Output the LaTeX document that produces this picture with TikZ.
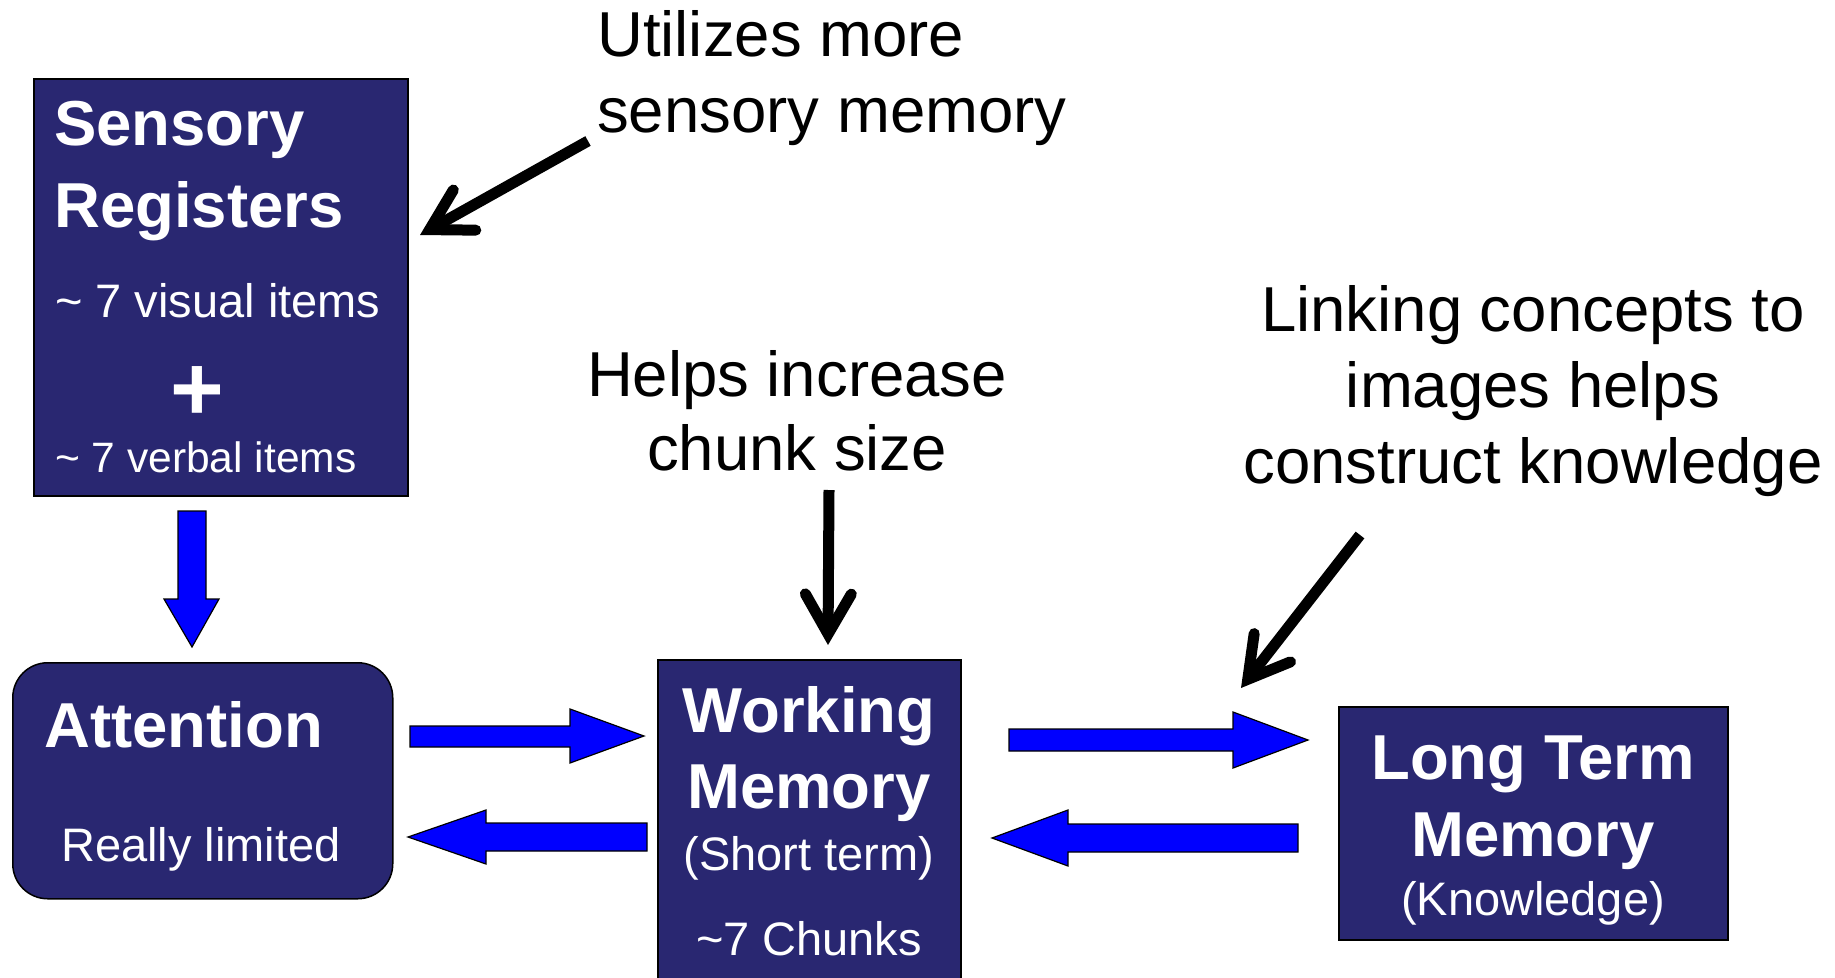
\documentclass[tikz,border=0pt]{standalone}
\usepackage{fontspec}
\setmainfont{Liberation Sans}
\usetikzlibrary{arrows.meta,calc}
\definecolor{navy}{RGB}{41,39,113}
\definecolor{flowblue}{RGB}{0,0,255}

\begin{document}
\begin{tikzpicture}[x=1pt,y=-1pt,
  box/.style={draw=black, line width=1.5pt, fill=navy, inner sep=0pt, anchor=north west},
  headtext/.style={text=white, font=\fontsize{63.5}{74}\selectfont\bfseries, inner sep=0pt},
  subtext/.style={text=white, font=\fontsize{47}{56}\selectfont, inner sep=0pt},
  smalltext/.style={text=white, font=\fontsize{42.5}{50}\selectfont, inner sep=0pt},
  note/.style={text=black, font=\fontsize{63.5}{76}\selectfont, inner sep=0pt},
  blockarrow/.style={draw=black, line width=1.2pt, fill=flowblue, line join=miter},
  pointer/.style={line width=11pt,
    -{Straight Barb[length=40pt,width=46pt,line cap=round,line join=miter]}}
]
\useasboundingbox (0,0) rectangle (1835,977);

% memory stores
\node[box, minimum width=374pt, minimum height=417pt] (sr) at (33,78) {};
\node[box, minimum width=380pt, minimum height=236pt, rounded corners=35pt] (att) at (12,662) {};
\node[box, minimum width=303pt, minimum height=340pt] (wm) at (657,659) {};
\node[box, minimum width=389pt, minimum height=233pt] (ltm) at (1338,706) {};

% sensory registers
\node[headtext, anchor=base west] (sr1) at (54,145) {Sensory};
\node[headtext, anchor=base west] (sr2) at (54,227) {Registers};
\node[subtext, anchor=base west] (sr3) at (55,317) {\textasciitilde{} 7 visual items};
\node[text=white, font=\fontsize{92}{92}\selectfont\bfseries, inner sep=0pt] (sr4) at (197,394) {+};
\node[smalltext, anchor=base west] (sr5) at (55,472) {\textasciitilde{} 7 verbal items};

% attention
\node[headtext, anchor=base west] (att1) at (44,747) {Attention};
\node[subtext, anchor=base west] (att2) at (61,861) {Really limited};

% working memory
\node[headtext, anchor=base] (wm1) at (809,732) {Working};
\node[headtext, anchor=base] (wm2) at (809,808) {Memory};
\node[subtext, anchor=base] (wm3) at (809,870) {(Short term)};
\node[subtext, anchor=base] (wm4) at (809,955) {\textasciitilde7 Chunks};

% long term memory
\node[headtext, anchor=base] (ltm1) at (1533,779) {Long Term};
\node[headtext, anchor=base] (ltm2) at (1533,856) {Memory};
\node[subtext, anchor=base] (ltm3) at (1533,915) {(Knowledge)};

% flow between the stores
\draw[blockarrow] (178,511) -- (206,511) -- (206,599) -- (219,599) -- (192,647)
  -- (164,599) -- (178,599) -- cycle;
\draw[blockarrow] (410,726) -- (570,726) -- (570,709) -- (644,736) -- (570,763)
  -- (570,747) -- (410,747) -- cycle;
\draw[blockarrow] (408,837) -- (486,810) -- (486,823) -- (647,823) -- (647,851)
  -- (486,851) -- (486,864) -- cycle;
\draw[blockarrow] (1009,729) -- (1233,729) -- (1233,712) -- (1308,740) -- (1233,768)
  -- (1233,751) -- (1009,751) -- cycle;
\draw[blockarrow] (992,838) -- (1068,810) -- (1068,824) -- (1298,824) -- (1298,852)
  -- (1068,852) -- (1068,866) -- cycle;

% annotations
\node[note, anchor=base west] (u1) at (597,56) {Utilizes more};
\node[note, anchor=base west] (u2) at (597,132) {sensory memory};
\node[note, anchor=base] (h1) at (797,396) {Helps increase};
\node[note, anchor=base] (h2) at (797,470) {chunk size};
\node[note, anchor=base] (l1) at (1533,331) {Linking concepts to};
\node[note, anchor=base] (l2) at (1533,407) {images helps};
\node[note, anchor=base] (l3) at (1533,483) {construct knowledge};

\coordinate (p1s) at (588,141);
\coordinate (p1e) at (420,235);
\coordinate (p2s) at (829,490);
\coordinate (p2e) at (828,645);
\coordinate (p3s) at (1360,535);
\coordinate (p3e) at (1241,688);
\draw[pointer] (p1s) -- (p1e);
\draw[pointer] (p2s) -- (p2e);
\draw[pointer] (p3s) -- (p3e);
\end{tikzpicture}
\end{document}
